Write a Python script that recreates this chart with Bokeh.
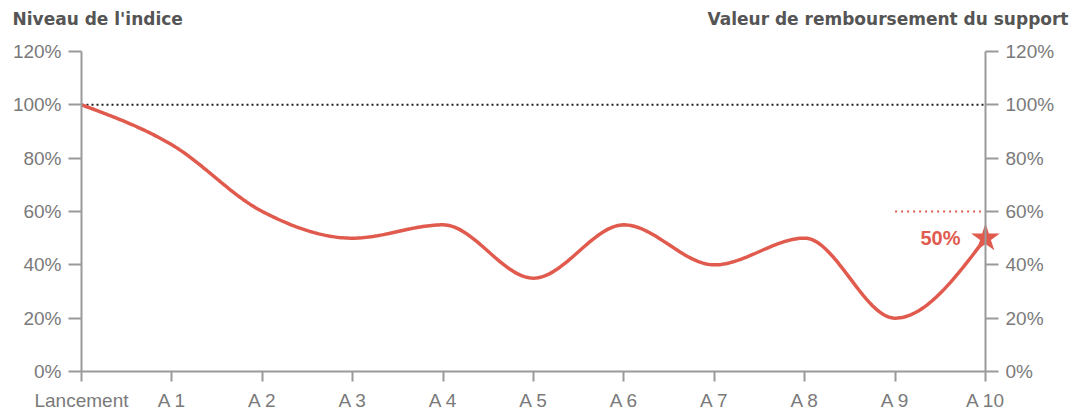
import numpy as np
from bokeh.plotting import figure
from bokeh.models import Range1d, LinearAxis, FixedTicker, Label
from bokeh.embed import file_html
from bokeh.resources import INLINE

# ---- data ----
categories = ["Lancement", "A 1", "A 2", "A 3", "A 4", "A 5", "A 6", "A 7", "A 8", "A 9", "A 10"]
index_values = [100, 85, 60, 50, 55, 35, 55, 40, 50, 20, 50]
y_ticks = [0, 20, 40, 60, 80, 100, 120]
y_tick_labels = ["0%", "20%", "40%", "60%", "80%", "100%", "120%"]
barrier_level = 100
protection_level = 60
final_value = 50
final_label = "50%"
left_title = "Niveau de l'indice"
right_title = "Valeur de remboursement du support"

RED = "#E05A4E"
AXIS = "#9a9a9a"
TICKTXT = "#7a7a7a"
TITLE = "#555555"
FONT = "Liberation Sans"
TITLE_FONT = "DejaVu Sans"

xs = list(range(len(categories)))
X0, X1 = xs[0], xs[-1]
Y0, Y1 = y_ticks[0], y_ticks[-1]

# pixel geometry of the plotting area inside the 1075x412 canvas
W, H = 1075, 412
PX_L, PX_R, PX_T, PX_B = 81, 985, 51, 371
sx = (PX_R - PX_L) / (X1 - X0)
sy = (PX_B - PX_T) / (Y1 - Y0)


def monotone_x(x, y, n=40):
    """d3 curveMonotoneX style rendering of the data points."""
    x = np.asarray(x, float)
    y = np.asarray(y, float)
    m = len(x)
    t = np.zeros(m)
    for i in range(1, m - 1):
        h0 = x[i] - x[i - 1]
        h1 = x[i + 1] - x[i]
        s0 = (y[i] - y[i - 1]) / h0
        s1 = (y[i + 1] - y[i]) / h1
        p = (s0 * h1 + s1 * h0) / (h0 + h1)
        t[i] = (np.sign(s0) + np.sign(s1)) * min(abs(s0), abs(s1), 0.5 * abs(p))
    h = x[1] - x[0]
    t[0] = (3 * (y[1] - y[0]) / h - t[1]) / 2
    h = x[-1] - x[-2]
    t[-1] = (3 * (y[-1] - y[-2]) / h - t[-2]) / 2
    px, py = [], []
    for i in range(m - 1):
        h = x[i + 1] - x[i]
        s = np.linspace(0, 1, n, endpoint=(i == m - 2))
        h00 = 2 * s**3 - 3 * s**2 + 1
        h10 = s**3 - 2 * s**2 + s
        h01 = -2 * s**3 + 3 * s**2
        h11 = s**3 - s**2
        px.extend(x[i] + s * h)
        py.extend(h00 * y[i] + h10 * h * t[i] + h01 * y[i + 1] + h11 * h * t[i + 1])
    return px, py


p = figure(
    width=W, height=H,
    x_range=Range1d(X0 - PX_L / sx, X1 + (W - PX_R) / sx),
    y_range=Range1d(Y0 - (H - PX_B) / sy, Y1 + PX_T / sy),
    min_border=0,
    output_backend="svg", toolbar_location=None,
)
p.outline_line_color = None
p.xgrid.visible = False
p.ygrid.visible = False
p.background_fill_color = "white"
p.border_fill_color = "white"

# axes
yticker = FixedTicker(ticks=y_ticks)
yover = {t: l for t, l in zip(y_ticks, y_tick_labels)}
left = p.yaxis[0]
left.ticker = yticker
left.major_label_overrides = yover
left.fixed_location = X0
right = LinearAxis(ticker=yticker, major_label_overrides=yover, fixed_location=X1)
p.add_layout(right, "right")

for ax in (left, right):
    ax.bounds = (Y0, Y1)
    ax.axis_line_color = AXIS
    ax.axis_line_width = 2
    ax.major_tick_line_color = AXIS
    ax.major_tick_line_width = 2
    ax.major_tick_in = 0
    ax.major_tick_out = 13
    ax.minor_tick_line_color = None
    ax.major_label_standoff = 7
    ax.major_label_text_font = FONT
    ax.major_label_text_font_size = "19px"
    ax.major_label_text_color = TICKTXT

xa = p.xaxis[0]
xa.fixed_location = Y0
xa.bounds = (X0, X1)
xa.ticker = FixedTicker(ticks=xs)
xa.major_label_overrides = {i: c for i, c in zip(xs, categories)}
xa.axis_line_color = AXIS
xa.axis_line_width = 2
xa.major_tick_line_color = AXIS
xa.major_tick_line_width = 2
xa.major_tick_in = 0
xa.major_tick_out = 10
xa.minor_tick_line_color = None
xa.major_label_standoff = 8
xa.major_label_text_font = FONT
xa.major_label_text_font_size = "19px"
xa.major_label_text_color = TICKTXT

# barrier line (100%)
p.line([X0, X1], [barrier_level, barrier_level], line_color="#222222",
       line_width=2, line_dash="2 3")
# protection line (60%)
p.line([xs[-2], X1 - 0.05], [protection_level, protection_level], line_color=RED,
       line_width=2, line_dash="2 4")

# index curve
cx, cy = monotone_x(xs, index_values)
p.line(cx, cy, line_color=RED, line_width=3.5)

# final value star
p.scatter([X1], [final_value], marker="star", size=30, fill_color=RED, line_color=None)
p.add_layout(Label(x=X1 - 25 / sx, y=final_value, text=final_label, text_align="right",
                   text_baseline="middle", text_font=FONT, text_font_style="bold",
                   text_font_size="20px", text_color=RED))

# titles
p.add_layout(Label(x=X0 - 69 / sx, y=Y1 + 33 / sy, text=left_title, text_align="left",
                   text_baseline="middle", text_font=TITLE_FONT, text_font_style="bold",
                   text_font_size="17px", text_color=TITLE))
p.add_layout(Label(x=X1 + 83 / sx, y=Y1 + 33 / sy, text=right_title, text_align="right",
                   text_baseline="middle", text_font=TITLE_FONT, text_font_style="bold",
                   text_font_size="17px", text_color=TITLE))

open("out.html", "w").write(file_html(p, INLINE))
